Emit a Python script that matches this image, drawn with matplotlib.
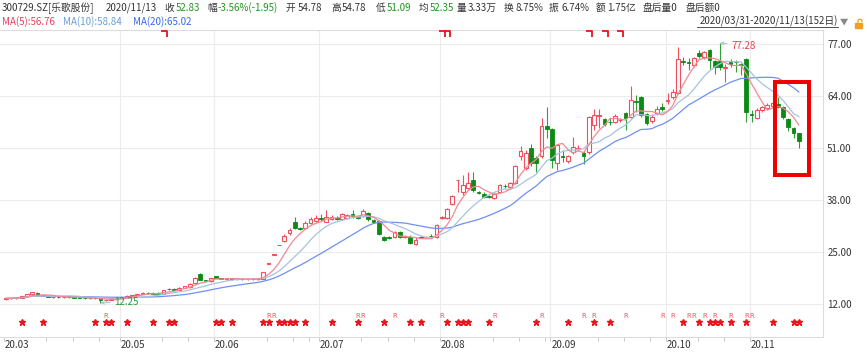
import numpy as np
import pandas as pd
import matplotlib
matplotlib.use("Agg")
import matplotlib.pyplot as plt
from matplotlib.patches import Rectangle
from matplotlib.lines import Line2D
from matplotlib.path import Path

plt.rcParams['font.family'] = ['Noto Sans CJK SC', 'DejaVu Sans']

# ---------------- data ----------------
holidays = ['2020-04-06', '2020-05-01', '2020-05-04', '2020-05-05', '2020-06-25',
            '2020-06-26', '2020-10-01', '2020-10-02', '2020-10-05', '2020-10-06',
            '2020-10-07', '2020-10-08']
dates = pd.bdate_range('2020-03-31', '2020-11-13', freq='C', holidays=holidays)

opens = [13.2, 13.4, 13.5, 13.6, 13.9, 14.4, 14.8, 14.1, 14.0, 13.7,
         13.8, 13.7, 13.8, 13.7, 13.6, 13.5, 13.4, 13.5, 13.4, 12.9,
         13.0, 13.2, 13.4, 13.7, 14.1, 14.2, 14.5, 14.8, 14.7, 14.7,
         14.6, 15.8, 15.8, 15.6, 16.1, 16.2, 17.2, 19.5, 17.9, 17.7,
         18.9, 18.5, 18.3, 18.4, 18.2, 18.3, 18.2, 18.3, 18.2, 18.3,
         22.1, 24.3, 26.7, 27.7, 29.8, 32.6, 31.0, 31.0, 32.2, 32.8,
         33.5, 32.6, 33.2, 33.6, 33.2, 33.5, 34.5, 33.8, 34.0, 34.7,
         33.0, 32.8, 28.8, 28.7, 28.7, 30.0, 28.8, 28.8, 27.0, 28.8,
         28.8, 29.0, 28.8, 33.5, 33.5, 37.0, 42.9, 40.0, 41.0, 43.0,
         40.0, 39.5, 38.9, 38.6, 40.0, 41.6, 41.2, 42.2, 49.0, 46.0,
         51.0, 48.5, 49.0, 56.5, 55.7, 47.2, 49.0, 47.7, 50.0, 50.7,
         49.7, 50.0, 56.7, 58.9, 58.2, 57.6, 57.5, 57.9, 59.7, 58.7,
         62.8, 63.7, 59.5, 57.7, 59.7, 61.2, 62.8, 63.7, 64.7, 72.7,
         72.5, 71.7, 74.8, 73.7, 75.5, 72.7, 72.7, 71.0, 72.7, 72.6,
         71.9, 73.2, 59.5, 58.5, 60.5, 61.0, 61.5, 62.0, 61.2, 58.2,
         56.0, 54.78]
highs = [13.5, 13.6, 13.7, 14.0, 14.5, 15.1, 14.9, 14.3, 14.1, 13.9,
         13.9, 13.9, 13.9, 13.8, 13.7, 13.6, 13.6, 13.6, 13.5, 13.1,
         13.3, 13.5, 13.8, 14.2, 14.3, 14.6, 14.9, 14.9, 14.9, 14.9,
         15.6, 15.9, 15.9, 16.2, 16.5, 17.2, 18.7, 19.8, 18.1, 18.6,
         19.0, 18.6, 18.5, 18.5, 18.4, 18.4, 18.4, 18.4, 18.4, 20.1,
         22.1, 24.3, 26.7, 29.4, 31.0, 33.8, 31.3, 32.8, 33.8, 34.2,
         34.5, 35.5, 34.3, 34.0, 34.8, 34.6, 35.5, 34.0, 35.8, 35.0,
         33.2, 33.0, 29.0, 28.9, 30.3, 30.3, 29.3, 29.3, 28.8, 29.1,
         29.0, 29.4, 32.0, 34.0, 36.0, 39.2, 43.1, 44.2, 45.0, 45.0,
         40.3, 40.0, 39.2, 39.8, 42.0, 42.0, 42.5, 46.8, 51.5, 50.5,
         52.0, 49.0, 58.5, 61.2, 56.0, 52.0, 50.5, 49.3, 53.8, 51.8,
         50.3, 59.0, 60.7, 60.7, 58.5, 58.5, 59.5, 58.5, 60.0, 66.5,
         64.2, 64.0, 59.8, 59.5, 61.5, 62.3, 64.8, 65.8, 76.2, 73.8,
         73.5, 73.8, 75.5, 75.3, 75.7, 73.0, 77.28, 72.0, 73.2, 72.9,
         72.2, 73.5, 60.5, 61.0, 61.5, 62.2, 62.5, 63.7, 61.5, 58.5,
         56.3, 54.78]
lows = [13.0, 13.2, 13.3, 13.5, 13.8, 14.3, 14.1, 13.9, 13.7, 13.5,
        13.6, 13.5, 13.6, 13.5, 13.4, 13.3, 13.3, 13.3, 12.25, 12.7,
        12.9, 13.1, 13.3, 13.6, 13.9, 14.1, 14.4, 14.5, 14.5, 14.5,
        14.5, 15.5, 15.5, 15.5, 16.0, 16.1, 17.1, 17.9, 17.5, 17.6,
        18.5, 18.2, 18.1, 18.1, 18.1, 18.0, 18.1, 18.1, 18.1, 18.2,
        22.1, 24.3, 26.7, 27.4, 29.3, 30.8, 30.4, 30.8, 32.0, 32.5,
        32.8, 32.4, 33.0, 33.0, 33.0, 33.3, 33.6, 33.3, 33.8, 32.8,
        32.3, 29.2, 27.8, 28.3, 28.5, 28.6, 28.6, 27.0, 26.7, 28.4,
        28.5, 28.7, 28.6, 33.2, 33.3, 36.8, 40.0, 39.3, 40.8, 40.0,
        39.4, 38.5, 38.4, 38.2, 39.8, 41.0, 41.0, 42.0, 48.0, 45.5,
        46.5, 45.0, 48.5, 53.5, 46.0, 45.5, 47.5, 47.3, 49.5, 50.3,
        47.0, 49.5, 55.5, 56.0, 56.5, 56.8, 57.2, 57.5, 55.5, 58.5,
        60.0, 58.8, 56.8, 57.3, 59.3, 60.3, 62.0, 63.3, 64.5, 71.8,
        70.5, 71.3, 73.5, 73.3, 70.8, 69.5, 70.5, 67.5, 71.2, 70.0,
        69.2, 57.5, 57.5, 58.2, 60.0, 60.5, 61.0, 61.0, 58.3, 55.3,
        53.5, 51.09]
closes = [13.4, 13.5, 13.6, 13.9, 14.4, 14.9, 14.2, 14.0, 13.8, 13.8,
          13.7, 13.8, 13.7, 13.6, 13.5, 13.4, 13.5, 13.4, 12.9, 13.0,
          13.2, 13.4, 13.7, 14.1, 14.2, 14.5, 14.8, 14.7, 14.6, 14.6,
          15.5, 15.7, 15.6, 16.1, 16.4, 17.0, 18.5, 18.0, 17.7, 18.5,
          18.6, 18.3, 18.3, 18.2, 18.3, 18.2, 18.3, 18.2, 18.3, 20.1,
          22.1, 24.3, 26.7, 29.0, 30.6, 31.0, 30.7, 32.2, 33.3, 33.5,
          33.2, 33.8, 33.8, 33.3, 34.6, 34.3, 34.0, 33.5, 35.2, 33.2,
          32.6, 29.6, 28.0, 28.6, 30.0, 28.8, 29.0, 27.3, 28.0, 28.6,
          28.7, 28.9, 31.8, 33.8, 35.7, 39.0, 43.0, 41.7, 42.2, 40.5,
          39.7, 38.8, 38.7, 39.5, 41.7, 41.4, 42.2, 46.5, 50.2, 49.7,
          47.2, 47.2, 56.5, 55.8, 48.0, 51.7, 48.7, 49.0, 51.2, 51.1,
          49.0, 58.7, 59.2, 59.3, 57.0, 57.4, 59.0, 58.1, 58.5, 63.0,
          62.6, 59.2, 57.2, 58.7, 60.7, 60.7, 63.1, 65.0, 73.2, 72.5,
          72.2, 73.5, 74.0, 75.0, 73.0, 71.2, 71.2, 71.2, 72.0, 72.4,
          71.7, 60.0, 59.2, 60.5, 61.2, 61.7, 62.2, 61.3, 58.7, 56.2,
          54.78, 52.83]

star_idx = [3, 7, 17, 19, 20, 23, 28, 31, 32, 40, 41, 43, 49, 50, 52, 53, 54, 55, 57,
            62, 67, 72, 77, 79, 84, 86, 87, 88, 92, 101, 107, 112, 115, 129, 132,
            134, 135, 136, 138, 141, 146, 150, 151]
r_idx = [19, 50, 51, 67, 68, 74, 83, 93, 102, 110, 112, 118, 125, 127, 130, 131,
         133, 135, 138, 141, 142]
flag_idx = [30, 83, 84, 111, 114, 117]
y_ticks = [12, 25, 38, 51, 64, 77]

# ---------------- figure ----------------
W, H = 867, 352
fig = plt.figure(figsize=(W / 100, H / 100), dpi=100)
def fx(x): return x / W
def fy(y): return 1 - y / H

ax = fig.add_axes([0, fy(337), fx(823), (337 - 30) / H])
n = len(closes)
idx = np.arange(n)
ax.set_xlim(-1.14, 155.6)
ax.set_ylim(3.75, 80.5)

UP = '#f0505e'
DN = '#0c8a14'
DN_WICK = '#2f9f3a'

for i in range(n):
    o, h, l, c = opens[i], highs[i], lows[i], closes[i]
    prev = closes[i - 1] if i > 0 else o
    up = c > o or (c == o and c >= prev)
    ax.vlines(i, l, h, color=UP if up else DN_WICK, lw=0.8, zorder=3)
    bottom = min(o, c)
    height = max(abs(c - o), 0.15)
    if up:
        ax.add_patch(Rectangle((i - 0.36, bottom), 0.72, height, facecolor='white',
                               edgecolor=UP, lw=0.8, zorder=4))
    else:
        ax.add_patch(Rectangle((i - 0.36, bottom), 0.72, height, facecolor=DN,
                               edgecolor=DN, lw=0.6, zorder=4))

cs = pd.Series(closes)
ma5 = cs.rolling(5, min_periods=1).mean()
ma10 = cs.rolling(10, min_periods=1).mean()
ma20 = cs.rolling(20, min_periods=1).mean()
ax.plot(idx, ma20, color='#6f90f2', lw=0.9, zorder=5)
ax.plot(idx, ma10, color='#a7c3e0', lw=0.9, zorder=5)
ax.plot(idx, ma5, color='#f28a92', lw=0.9, zorder=5)

# high / low annotations
hi_i = int(np.argmax(highs)); lo_i = int(np.argmin(lows))
ax.annotate(f'{highs[hi_i]:.2f}', xy=(hi_i, highs[hi_i]), xytext=(8, -2),
            textcoords='offset points', ha='left', va='center', fontsize=7,
            color='#e8404f',
            arrowprops=dict(arrowstyle='->', color='#a8c0dc', lw=0.7,
                            shrinkA=1, shrinkB=0, mutation_scale=5), zorder=6)
ax.annotate(f'{lows[lo_i]:.2f}', xy=(lo_i, lows[lo_i]), xytext=(10, 1),
            textcoords='offset points', ha='left', va='center', fontsize=7,
            color='#2a9a3a',
            arrowprops=dict(arrowstyle='->', color='#a8c0dc', lw=0.7,
                            shrinkA=1, shrinkB=0, mutation_scale=5), zorder=6)

# signal markers
ax.plot(star_idx, [7.5] * len(star_idx), ls='none', marker='*', ms=5,
        color='#e8141e', zorder=6)
for i in r_idx:
    ax.text(i, 8.9, 'R', color='#e85a66', fontsize=5, ha='center', va='center',
            family='DejaVu Sans')
flag = Path([(-1, 1), (1, 1), (1, -1)], [Path.MOVETO, Path.LINETO, Path.LINETO])
ax.plot(flag_idx, [79.5] * len(flag_idx), ls='none', marker=flag, ms=4,
        mfc='none', mec='#e8141e', mew=1.3, zorder=6)

# red highlight box
ax.add_patch(Rectangle((146.5, 44.25), 6.45, 23.25, fill=False,
                       edgecolor='#f00000', lw=2.9, zorder=7))

# grid / axes
ax.set_yticks(y_ticks)
ax.set_yticklabels([f'{v:.2f}' for v in y_ticks])
ax.yaxis.tick_right()
ax.tick_params(axis='y', length=0, pad=3, labelsize=7, labelcolor='#333333')
ax.grid(axis='y', color='#ececec', lw=0.8, zorder=0)

months = pd.Series(dates.month)
month_starts = [i for i in range(n) if i == 0 or months[i] != months[i - 1]]
labelled = []
for m in month_starts:
    if not labelled or m - labelled[-1] >= 8:
        labelled.append(m)
for m in labelled[1:]:
    ax.axvline(m - 0.3, color='#ececec', lw=0.8, zorder=0)
for m in labelled:
    ax.annotate(dates[m].strftime('%y.%m'), xy=(m - 0.3, 0),
                xycoords=('data', 'axes fraction'), xytext=(0.5, -2.5),
                textcoords='offset points', ha='left', va='top', fontsize=7,
                color='#333333')
mondays = [i for i in range(n) if dates[i].weekday() == 0]
ticks = sorted(set(labelled + [i for i in mondays
                               if all(not (0 <= i - m < 6) for m in labelled)]))
ax.set_xticks([t - 0.3 for t in ticks])
ax.set_xticklabels([])
ax.tick_params(axis='x', length=3, width=0.7, color='#c8c8c8', direction='out')

for s in ['top', 'bottom', 'right']:
    ax.spines[s].set_color('#dcdcdc')
    ax.spines[s].set_linewidth(0.8)
ax.spines['left'].set_visible(False)

# ---------------- header ----------------
DARK = '#333333'
GREEN = '#1e961e'
line1 = [(2, '300729.SZ[乐歌股份]', DARK), (106, '2020/11/13', DARK),
         (164, '收', DARK), (176, '52.83', GREEN),
         (207, '幅', DARK), (218, '-3.56%(-1.95)', GREEN),
         (286, '开', DARK), (298, '54.78', DARK),
         (331, '高', DARK), (342, '54.78', DARK),
         (376, '低', DARK), (387, '51.09', GREEN),
         (419, '均', DARK), (430, '52.35', GREEN),
         (457, '量', DARK), (468, '3.33万', DARK),
         (504, '换', DARK), (515, '8.75%', DARK),
         (549, '振', DARK), (561, '6.74%', DARK),
         (596, '额', DARK), (607, '1.75亿', DARK),
         (643, '盘后量0', DARK), (686, '盘后额0', DARK)]
for x, s, c in line1:
    fig.text(fx(x), fy(8), s, color=c, fontsize=7, ha='left', va='center')

line2 = [(2, 'MA(5):56.76', '#e8405a'), (63, 'MA(10):58.84', '#6a9fd4'),
         (133, 'MA(20):65.02', '#3a66e8')]
for x, s, c in line2:
    fig.text(fx(x), fy(22), s, color=c, fontsize=7, ha='left', va='center')

fig.text(fx(838), fy(21.5), '2020/03/31-2020/11/13(152日)', color=DARK, fontsize=7,
         ha='right', va='center')
fig.add_artist(Line2D([fx(697), fx(838)], [fy(27), fy(27)], color=DARK, lw=0.6))
fig.text(fx(844), fy(21.5), '▼', color='#888888', fontsize=6, ha='center', va='center')
fig.add_artist(Rectangle((fx(855), fy(27.5)), 7 / W, 4.5 / H, color='#f0a020',
                         transform=fig.transFigure))
fig.add_artist(Line2D([fx(x) for x in [858, 858, 859, 861, 862, 862]],
                      [fy(y) for y in [23, 20.5, 19.3, 19.3, 20.5, 21.5]],
                      color='#f0a020', lw=0.9))

fig.savefig('out.png', dpi=100)
